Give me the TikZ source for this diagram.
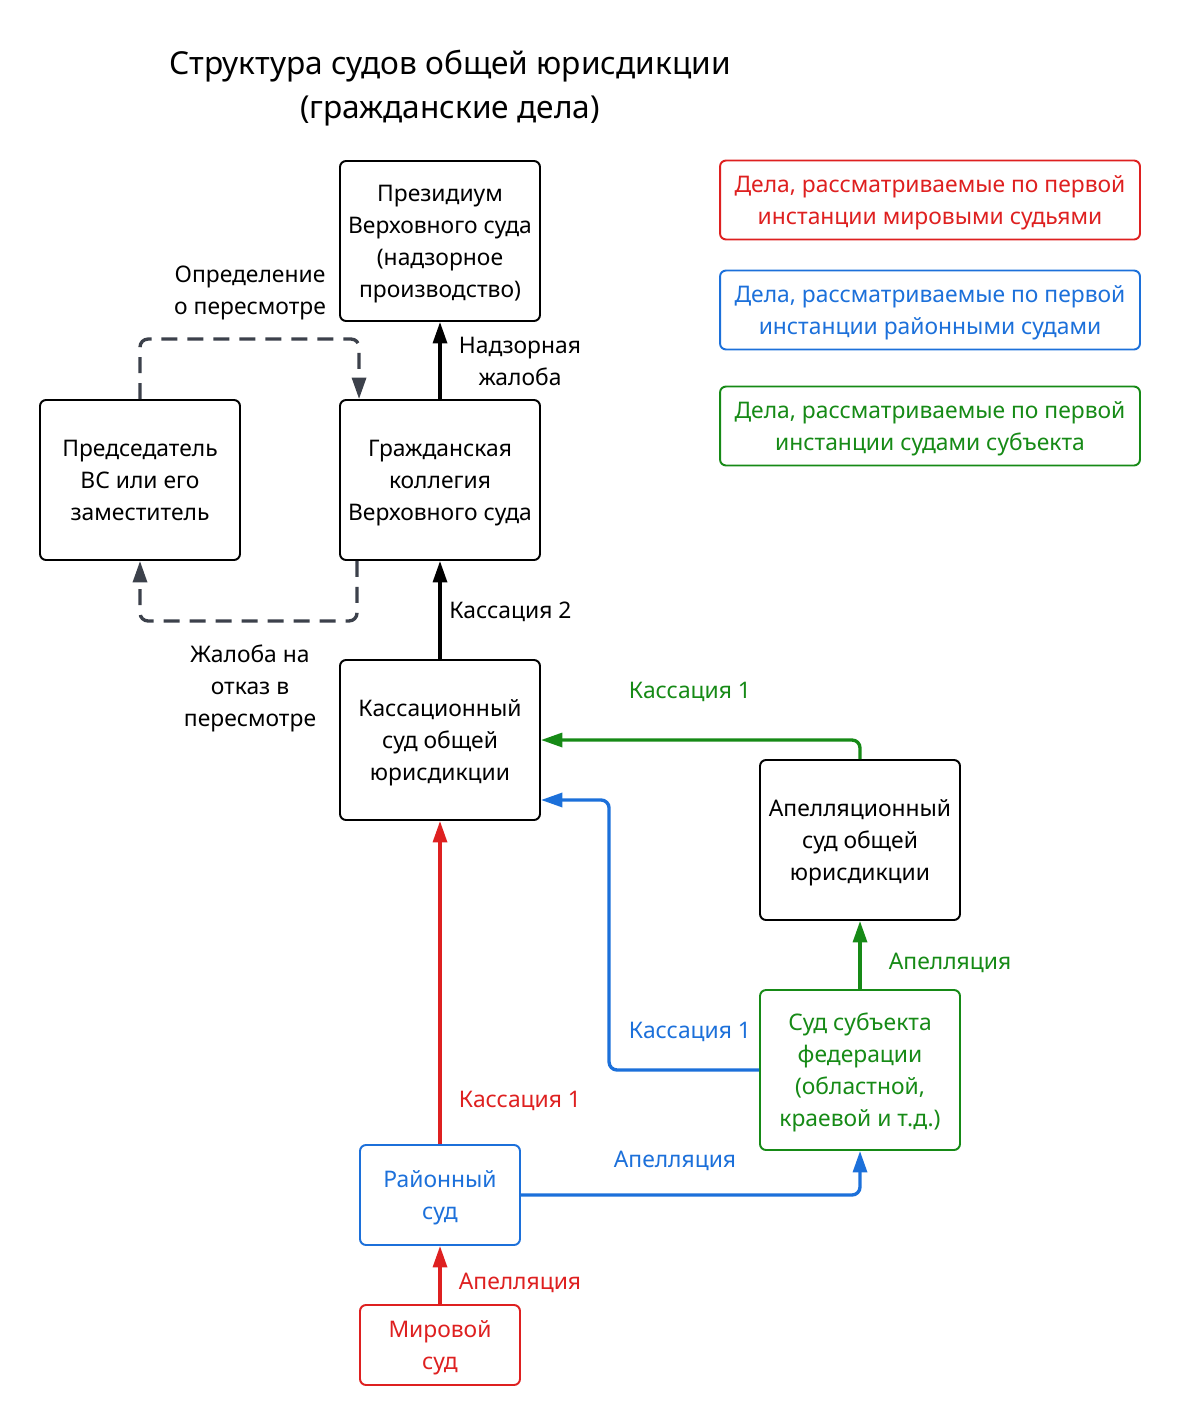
\documentclass[tikz,border=0pt]{standalone}
\usepackage{fontspec}
\setmainfont{Noto Sans}
\usetikzlibrary{arrows.meta,positioning}
\definecolor{cred}{RGB}{222,32,32}
\definecolor{cblue}{RGB}{28,112,218}
\definecolor{cgreen}{RGB}{22,138,22}
\definecolor{dashgray}{RGB}{60,65,75}
\tikzset{
  box/.style={draw, rounded corners=0.12cm, line width=1.1pt, minimum width=4cm, minimum height=3.2cm, align=center, inner sep=0pt, text depth=0pt, font=\fontsize{13}{18.2}\selectfont},
  legendbox/.style={box, minimum width=8.4cm, minimum height=1.58cm},
  link/.style={line width=1.9pt, rounded corners=0.16cm, -{Triangle[length=4.3mm,width=2.8mm]}},
  dashlink/.style={link, draw=dashgray, dash pattern=on 0.32cm off 0.2cm},
  lbl/.style={align=center, inner sep=0pt, text depth=0pt, font=\fontsize{13}{18.2}\selectfont},
}
\begin{document}
\begin{tikzpicture}[x=0.02cm, y=-0.02cm]
			\useasboundingbox (0,0) rectangle (1180,1426);
			
			% title
			\node[lbl, font=\fontsize{18}{25}\selectfont] (title) at (450,84) {Структура судов общей юрисдикции\\(гражданские дела)};
			
			% courts
			\node[box] (prez) at (440,241) {Президиум\\Верховного суда\\(надзорное\\производство)};
			\node[box] (pred) at (140,480) {Председатель\\ВС или его\\заместитель};
			\node[box] (koll) at (440,480) {Гражданская\\коллегия\\Верховного суда};
			\node[box] (kass) at (440,740) {Кассационный\\суд общей\\юрисдикции};
			\node[box] (apel) at (860,840) {Апелляционный\\суд общей\\юрисдикции};
			\node[box, draw=cgreen, text=cgreen] (subj) at (860,1070) {Суд субъекта\\федерации\\(областной,\\краевой и т.д.)};
			\node[box, draw=cblue, text=cblue, minimum width=3.2cm, minimum height=2cm] (rayon) at (440,1195) {Районный\\суд};
			\node[box, draw=cred, text=cred, minimum width=3.2cm, minimum height=1.6cm] (mir) at (440,1345) {Мировой\\суд};
			
			% legend
			\node[legendbox, draw=cred, text=cred] (legred) at (930,200) {Дела, рассматриваемые по первой\\инстанции мировыми судьями};
			\node[legendbox, draw=cblue, text=cblue] (legblue) at (930,310) {Дела, рассматриваемые по первой\\инстанции районными судами};
			\node[legendbox, draw=cgreen, text=cgreen] (leggreen) at (930,426) {Дела, рассматриваемые по первой\\инстанции судами субъекта};
			
			% black links
			\draw[link] (koll.north) -- (prez.south);
			\draw[link] (kass.north) -- (koll.south);
			\draw[dashlink] (pred.north) -- ++(0,-60) -| ([xshift=0.4cm]koll.north west);
			\draw[dashlink] ([xshift=0.36cm]koll.south west) -- ++(0,60) -| (pred.south);
			
			% coloured links
			\draw[link, cgreen] (apel.north) |- (kass.east);
			\draw[link, cblue] (subj.west) -- ++(-150,0) |- ([yshift=-1.2cm]kass.east);
			\draw[link, cred] (rayon.north) -- (kass.south);
			\draw[link, cgreen] (subj.north) -- (apel.south);
			\draw[link, cblue] (rayon.east) -| (subj.south);
			\draw[link, cred] (mir.north) -- (rayon.south);
			
			% labels
			\node[lbl] (lopr) at (250,290) {Определение\\о пересмотре};
			\node[lbl] (lnadz) at (520,361) {Надзорная\\жалоба};
			\node[lbl, anchor=west] (lkass2) at (449,610) {Кассация 2};
			\node[lbl] (lzhal) at (250,686) {Жалоба на\\отказ в\\пересмотре};
			\node[lbl, text=cgreen] (lkgreen) at (690,690) {Кассация 1};
			\node[lbl, text=cgreen] (lagreen) at (950,961) {Апелляция};
			\node[lbl, text=cblue] (lkblue) at (690,1030) {Кассация 1};
			\node[lbl, text=cred] (lkred) at (520,1099) {Кассация 1};
			\node[lbl, text=cblue] (lablue) at (675,1159) {Апелляция};
			\node[lbl, text=cred] (lared) at (520,1281) {Апелляция};
		\end{tikzpicture}
\end{document}
